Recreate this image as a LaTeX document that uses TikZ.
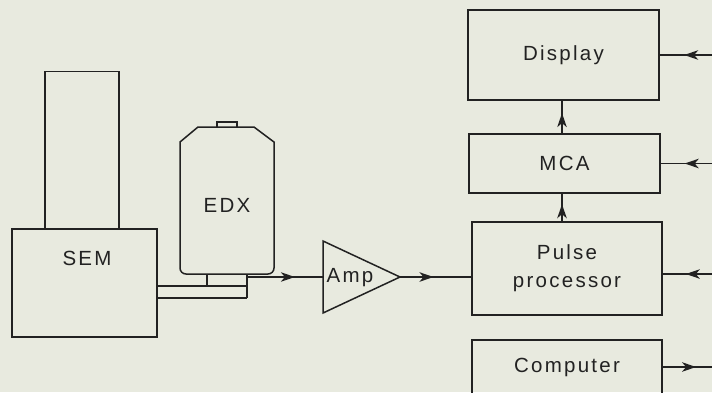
\documentclass[tikz,border=0pt]{standalone}
\usepackage{fontspec}
\setmainfont{Liberation Sans}[LetterSpace=11]
\usetikzlibrary{arrows.meta,decorations.markings,calc}
\definecolor{bg}{RGB}{232,234,223}
\definecolor{ink}{RGB}{34,34,34}
\newcommand{\lab}{\fontsize{20.5}{28}\selectfont\color{ink}}
\begin{document}
\begin{tikzpicture}[x=1pt,y=-1pt,
  line width=1.5pt, draw=ink,
  box/.style={draw=ink, line width=1.5pt, inner sep=0pt, align=center, font=\lab},
  lbl/.style={inner sep=0pt, font=\lab},
  midarrow/.style={postaction={decorate}, decoration={markings,
     mark=at position #1 with {\arrow[ink]{Stealth[length=14pt,width=9.5pt,inset=4pt]}}}}
]
\useasboundingbox (0,0) rectangle (712,392);
\clip (0,0) rectangle (712,392);
\fill[bg] (0,0) rectangle (712,392);

% right-hand boxes
\node[box, minimum width=191pt, minimum height=90pt] (disp) at (563.5,55) {Display};
\node[box, minimum width=191pt, minimum height=59pt] (mca) at (564.5,163.5) {MCA};
\node[box, minimum width=190pt, minimum height=93pt] (pulse) at (567,268.5) {Pulse\\processor};
\node[box, minimum width=190pt, minimum height=54pt] (comp) at (567,367) {Computer};

% SEM
\node[box, minimum width=74pt, minimum height=157.3pt] (col) at (82,150.3) {};
\node[box, minimum width=145pt, minimum height=108pt] (sem) at (84.5,283) {};
\node[lbl] (semlbl) at (87,258) {SEM};

% EDX detector
\draw[ink] (198,127) -- (254,127) -- (274,142) [rounded corners=6pt] -- (274,274) -- (180,274)
      [sharp corners] -- (180,142) -- cycle;
\draw[ink] (217,127) -- (217,122) -- (237,122) -- (237,127);
\node[lbl] (edx) at (227,205) {EDX};

% pipe
\draw[ink] (157,286) -- (247,286);
\draw[ink] (157,298) -- (247,298);
\draw[ink] (247,274) -- (247,298);
\draw[ink] (207,274) -- (207,286);

% amplifier
\coordinate (ampin) at (323,277);
\coordinate (amptip) at (400,277);
\draw[ink] (323,241) -- (amptip) -- (323,313) -- cycle;
\node[lbl] (amp) at (350,278) {Amp};

\coordinate (edxout) at (247,277);
\draw[ink, midarrow=0.63] (edxout) -- (ampin);
\draw[ink, midarrow=0.47] (amptip) -- (amptip -| pulse.west);

% vertical arrows
\coordinate (vx) at (562,0);
\draw[ink, midarrow=0.62] (pulse.north -| vx) -- (mca.south -| vx);
\draw[ink, midarrow=0.62] (mca.north -| vx) -- (disp.south -| vx);

% right-side connectors
\coordinate (rD) at (714,55);
\coordinate (rM) at (714,163.5);
\coordinate (rP) at (714,274);
\coordinate (rC) at (714,367);
\draw[ink, midarrow=0.55] (rD) -- (rD -| disp.east);
\draw[ink, midarrow=0.55] (rM) -- (rM -| mca.east);
\draw[ink, midarrow=0.55] (rP) -- (rP -| pulse.east);
\draw[ink, midarrow=0.65] (rC -| comp.east) -- (rC);
\end{tikzpicture}
\end{document}
